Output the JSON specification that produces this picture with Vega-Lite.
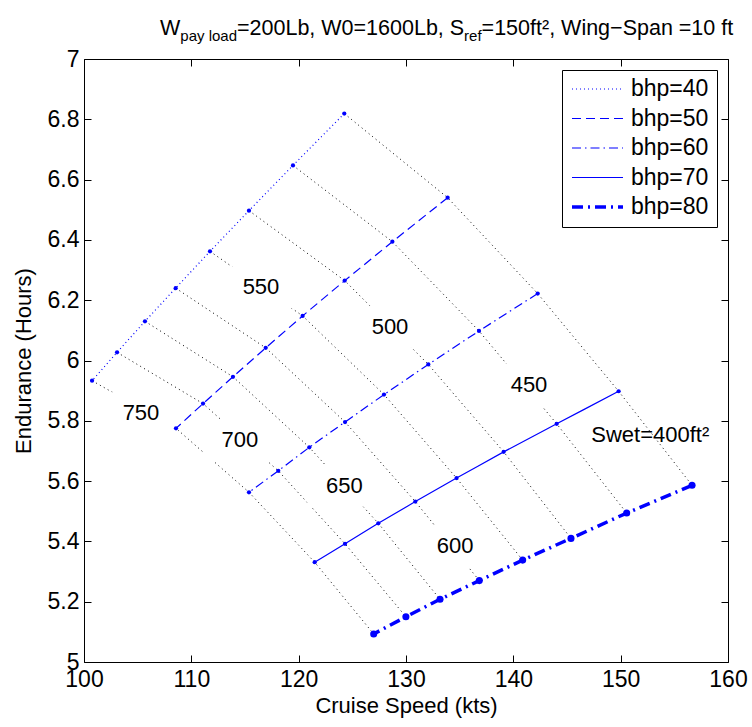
{
  "$schema": "https://vega.github.io/schema/vega-lite/v6.json",
  "width": 644,
  "height": 603,
  "autosize": {"type": "none"},
  "padding": {"left": 84, "top": 59, "right": 24, "bottom": 65},
  "background": "white",
  "config": {
    "view": {"stroke": "black", "strokeWidth": 1},
    "font": "Liberation Sans",
    "axis": {
      "domain": false,
      "grid": false,
      "tickColor": "black",
      "tickSize": -7,
      "tickWidth": 1,
      "labelFont": "Liberation Sans",
      "labelFontSize": 23,
      "labelColor": "black",
      "labelFlush": false,
      "labelOverlap": false,
      "titleFont": "Liberation Sans",
      "titleFontSize": 22,
      "titleFontWeight": "normal",
      "titleColor": "black"
    },
    "legend": {
      "title": null, "orient": "top-right", "offset": 11,
      "strokeColor": "black", "fillColor": "white", "cornerRadius": 0, "padding": 8,
      "symbolType": "stroke", "symbolSize": 2601, "symbolStrokeColor": "#0000ff",
      "clipHeight": 22, "rowPadding": 6.5,
      "labelFont": "Liberation Sans", "labelFontSize": 23, "labelColor": "black", "labelOffset": 6, "labelLimit": 0
    }
  },
  "datasets": {
    "grid": [
      {"series": "bhp=40", "bhp": 40, "swet": 400, "speed": 124.25, "endurance": 6.819},
      {"series": "bhp=40", "bhp": 40, "swet": 450, "speed": 119.47, "endurance": 6.647},
      {"series": "bhp=40", "bhp": 40, "swet": 500, "speed": 115.37, "endurance": 6.497},
      {"series": "bhp=40", "bhp": 40, "swet": 550, "speed": 111.74, "endurance": 6.362},
      {"series": "bhp=40", "bhp": 40, "swet": 600, "speed": 108.54, "endurance": 6.240},
      {"series": "bhp=40", "bhp": 40, "swet": 650, "speed": 105.68, "endurance": 6.130},
      {"series": "bhp=40", "bhp": 40, "swet": 700, "speed": 103.08, "endurance": 6.027},
      {"series": "bhp=40", "bhp": 40, "swet": 750, "speed": 100.75, "endurance": 5.933},
      {"series": "bhp=50", "bhp": 50, "swet": 400, "speed": 133.88, "endurance": 6.540},
      {"series": "bhp=50", "bhp": 50, "swet": 450, "speed": 128.73, "endurance": 6.394},
      {"series": "bhp=50", "bhp": 50, "swet": 500, "speed": 124.29, "endurance": 6.265},
      {"series": "bhp=50", "bhp": 50, "swet": 550, "speed": 120.37, "endurance": 6.148},
      {"series": "bhp=50", "bhp": 50, "swet": 600, "speed": 116.93, "endurance": 6.042},
      {"series": "bhp=50", "bhp": 50, "swet": 650, "speed": 113.88, "endurance": 5.946},
      {"series": "bhp=50", "bhp": 50, "swet": 700, "speed": 111.09, "endurance": 5.857},
      {"series": "bhp=50", "bhp": 50, "swet": 750, "speed": 108.57, "endurance": 5.775},
      {"series": "bhp=60", "bhp": 60, "swet": 400, "speed": 142.27, "endurance": 6.222},
      {"series": "bhp=60", "bhp": 60, "swet": 450, "speed": 136.80, "endurance": 6.098},
      {"series": "bhp=60", "bhp": 60, "swet": 500, "speed": 132.08, "endurance": 5.987},
      {"series": "bhp=60", "bhp": 60, "swet": 550, "speed": 127.95, "endurance": 5.887},
      {"series": "bhp=60", "bhp": 60, "swet": 600, "speed": 124.32, "endurance": 5.796},
      {"series": "bhp=60", "bhp": 60, "swet": 650, "speed": 120.99, "endurance": 5.712},
      {"series": "bhp=60", "bhp": 60, "swet": 700, "speed": 118.10, "endurance": 5.634},
      {"series": "bhp=60", "bhp": 60, "swet": 750, "speed": 115.37, "endurance": 5.563},
      {"series": "bhp=70", "bhp": 70, "swet": 400, "speed": 149.81, "endurance": 5.898},
      {"series": "bhp=70", "bhp": 70, "swet": 450, "speed": 144.04, "endurance": 5.790},
      {"series": "bhp=70", "bhp": 70, "swet": 500, "speed": 139.10, "endurance": 5.697},
      {"series": "bhp=70", "bhp": 70, "swet": 550, "speed": 134.71, "endurance": 5.610},
      {"series": "bhp=70", "bhp": 70, "swet": 600, "speed": 130.87, "endurance": 5.532},
      {"series": "bhp=70", "bhp": 70, "swet": 650, "speed": 127.42, "endurance": 5.460},
      {"series": "bhp=70", "bhp": 70, "swet": 700, "speed": 124.32, "endurance": 5.392},
      {"series": "bhp=70", "bhp": 70, "swet": 750, "speed": 121.49, "endurance": 5.331},
      {"series": "bhp=80", "bhp": 80, "swet": 400, "speed": 156.65, "endurance": 5.586},
      {"series": "bhp=80", "bhp": 80, "swet": 450, "speed": 150.56, "endurance": 5.494},
      {"series": "bhp=80", "bhp": 80, "swet": 500, "speed": 145.37, "endurance": 5.410},
      {"series": "bhp=80", "bhp": 80, "swet": 550, "speed": 140.87, "endurance": 5.338},
      {"series": "bhp=80", "bhp": 80, "swet": 600, "speed": 136.83, "endurance": 5.270},
      {"series": "bhp=80", "bhp": 80, "swet": 650, "speed": 133.17, "endurance": 5.208},
      {"series": "bhp=80", "bhp": 80, "swet": 700, "speed": 129.99, "endurance": 5.150},
      {"series": "bhp=80", "bhp": 80, "swet": 750, "speed": 126.99, "endurance": 5.093}
    ],
    "labels": [
      {"label": "750", "speed": 105.31, "endurance": 5.825},
      {"label": "700", "speed": 114.53, "endurance": 5.736},
      {"label": "650", "speed": 124.25, "endurance": 5.585},
      {"label": "600", "speed": 134.57, "endurance": 5.385},
      {"label": "550", "speed": 116.49, "endurance": 6.243},
      {"label": "500", "speed": 128.51, "endurance": 6.112},
      {"label": "450", "speed": 141.46, "endurance": 5.919},
      {"label": "Swet=400ft²", "speed": 152.76, "endurance": 5.753}
    ]
  },
  "layer": [
    {
      "layer": [
        {
          "data": {"name": "grid"},
          "mark": {"type": "line", "color": "black", "strokeWidth": 1, "strokeDash": [1, 3.5]},
          "encoding": {
            "x": {
              "field": "speed", "type": "quantitative",
              "scale": {"domain": [100, 160], "nice": false, "zero": false},
              "axis": {"values": [100, 110, 120, 130, 140, 150, 160], "labelPadding": 13, "title": "Cruise Speed (kts)", "titlePadding": 4}
            },
            "y": {
              "field": "endurance", "type": "quantitative",
              "scale": {"domain": [5, 7], "nice": false, "zero": false},
              "axis": {"values": [5, 5.2, 5.4, 5.6, 5.8, 6, 6.2, 6.4, 6.6, 6.8, 7], "format": "~g", "labelPadding": 12, "title": "Endurance (Hours)", "titlePadding": 12}
            },
            "detail": {"field": "swet", "type": "nominal"},
            "order": {"field": "bhp", "type": "quantitative"}
          }
        },
        {
          "data": {"name": "labels"},
          "transform": [{"filter": "datum.label != 'Swet=400ft²'"}],
          "mark": {"type": "point", "shape": "M-1.76,-1H1.76V1H-1.76Z", "filled": true, "color": "white", "opacity": 1, "size": 1764},
          "encoding": {
            "x": {"field": "speed", "type": "quantitative"},
            "y": {"field": "endurance", "type": "quantitative"}
          }
        },
        {
          "data": {"name": "grid"},
          "mark": {"type": "line"},
          "encoding": {
            "x": {"field": "speed", "type": "quantitative"},
            "y": {"field": "endurance", "type": "quantitative"},
            "order": {"field": "swet", "type": "quantitative"},
            "color": {
              "field": "series", "type": "nominal",
              "scale": {"domain": ["bhp=40", "bhp=50", "bhp=60", "bhp=70", "bhp=80"], "range": ["#0000ff", "#0000ff", "#0000ff", "#0000ff", "#0000ff"]},
              "legend": {"title": null, "encode": {"symbols": {"update": {"stroke": {"value": "#0000ff"}, "strokeOpacity": {"value": 1}, "opacity": {"value": 1}}}}}
            },
            "strokeDash": {
              "field": "series", "type": "nominal",
              "scale": {"domain": ["bhp=40", "bhp=50", "bhp=60", "bhp=70", "bhp=80"], "range": [[1, 3], [9, 5], [9, 4, 1.5, 4], [40, 0], [11, 5, 2, 5]]},
              "legend": {"title": null}
            },
            "strokeWidth": {
              "field": "series", "type": "nominal",
              "scale": {"type": "ordinal", "domain": ["bhp=40", "bhp=50", "bhp=60", "bhp=70", "bhp=80"], "range": [1.2, 1.2, 1.2, 1.2, 3.5]},
              "legend": {"title": null}
            }
          }
        },
        {
          "data": {"name": "grid"},
          "mark": {"type": "point", "filled": true, "color": "#0000ff", "opacity": 1, "shape": "circle"},
          "encoding": {
            "x": {"field": "speed", "type": "quantitative"},
            "y": {"field": "endurance", "type": "quantitative"},
            "size": {"condition": {"test": "datum.bhp == 80", "value": 50}, "value": 18}
          }
        },
        {
          "data": {"name": "labels"},
          "mark": {"type": "text", "font": "Liberation Sans", "fontSize": 22, "color": "black", "align": "center", "baseline": "middle"},
          "encoding": {
            "x": {"field": "speed", "type": "quantitative"},
            "y": {"field": "endurance", "type": "quantitative"},
            "text": {"field": "label", "type": "nominal"}
          }
        },
        {
          "data": {"values": [{}]},
          "mark": {"type": "text", "text": "W", "font": "Liberation Sans", "fontSize": 21.5, "color": "black", "align": "left", "baseline": "alphabetic"},
          "encoding": {"x": {"datum": 107.081, "type": "quantitative"}, "y": {"datum": 7.0796, "type": "quantitative"}}
        },
        {
          "data": {"values": [{}]},
          "mark": {"type": "text", "text": "pay load", "font": "Liberation Sans", "fontSize": 15, "color": "black", "align": "left", "baseline": "alphabetic"},
          "encoding": {"x": {"datum": 108.972, "type": "quantitative"}, "y": {"datum": 7.0597, "type": "quantitative"}}
        },
        {
          "data": {"values": [{}]},
          "mark": {"type": "text", "text": "=200Lb, W0=1600Lb, S", "font": "Liberation Sans", "fontSize": 21.5, "color": "black", "align": "left", "baseline": "alphabetic"},
          "encoding": {"x": {"datum": 114.255, "type": "quantitative"}, "y": {"datum": 7.0796, "type": "quantitative"}}
        },
        {
          "data": {"values": [{}]},
          "mark": {"type": "text", "text": "ref", "font": "Liberation Sans", "fontSize": 15, "color": "black", "align": "left", "baseline": "alphabetic"},
          "encoding": {"x": {"datum": 135.414, "type": "quantitative"}, "y": {"datum": 7.0597, "type": "quantitative"}}
        },
        {
          "data": {"values": [{}]},
          "mark": {"type": "text", "text": "=150ft²,  Wing−Span =10 ft", "font": "Liberation Sans", "fontSize": 21.5, "color": "black", "align": "left", "baseline": "alphabetic"},
          "encoding": {"x": {"datum": 137.044, "type": "quantitative"}, "y": {"datum": 7.0796, "type": "quantitative"}}
        }
      ]
    },
    {
      "data": {"name": "grid"},
      "mark": {"type": "point", "opacity": 0},
      "encoding": {
        "x": {
          "field": "speed", "type": "quantitative",
          "scale": {"domain": [100, 160], "nice": false, "zero": false},
          "axis": {"orient": "top", "values": [100, 110, 120, 130, 140, 150, 160], "labels": false, "title": null}
        },
        "y": {
          "field": "endurance", "type": "quantitative",
          "scale": {"domain": [5, 7], "nice": false, "zero": false},
          "axis": {"orient": "right", "values": [5, 5.2, 5.4, 5.6, 5.8, 6, 6.2, 6.4, 6.6, 6.8, 7], "labels": false, "title": null}
        }
      }
    }
  ],
  "resolve": {"axis": {"x": "independent", "y": "independent"}}
}
